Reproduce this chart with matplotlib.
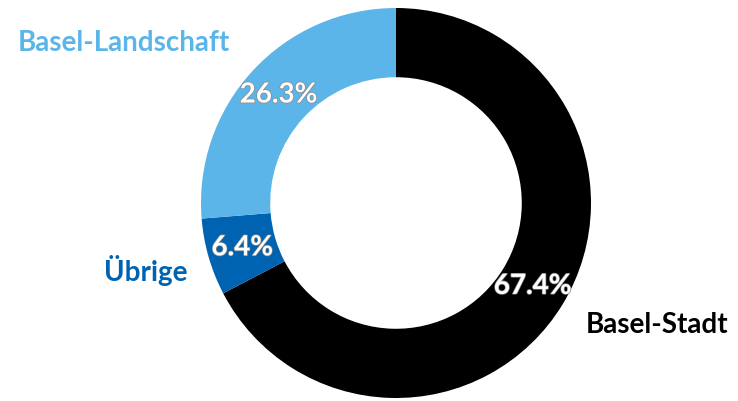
import matplotlib
matplotlib.use("Agg")
import matplotlib.pyplot as plt
import matplotlib.patheffects as pe
import numpy as np

categories = ["Basel-Stadt", "Übrige", "Basel-Landschaft"]
shares = [67.4, 6.4, 26.3]
colors = ["#000000", "#0063B1", "#5BB5E8"]
pct_labels = ["67.4%", "6.4%", "26.3%"]
# label anchor (angle in degrees, distance in radii) for the category names
name_pos = [(-25.0, 1.48), (195.0, 1.33), (149.5, 1.62)]

plt.rcParams["font.family"] = ["Lato", "DejaVu Sans"]

W, H = 738, 401
fig = plt.figure(figsize=(W / 100, H / 100), dpi=100)
cx, cy, R = 396, 198, 195
ax = fig.add_axes([(cx - R) / W, (cy - R) / H, 2 * R / W, 2 * R / H])

wedges, _ = ax.pie(
    shares,
    colors=colors,
    startangle=90,
    counterclock=False,
    radius=1.0,
    wedgeprops=dict(width=0.355, linewidth=0),
    normalize=True,
)
ax.set_xlim(-1, 1)
ax.set_ylim(-1, 1)
ax.set_aspect("auto")
ax.axis("off")

# percentage labels centred in each ring segment
for w, txt in zip(wedges, pct_labels):
    ang = np.deg2rad((w.theta1 + w.theta2) / 2)
    r = 0.82
    ax.text(r * np.cos(ang), r * np.sin(ang), txt, ha="center", va="center",
            color="white", fontsize=20, fontweight="bold",
            path_effects=[pe.withStroke(linewidth=1.0, foreground="#888888")])

# category names outside the ring
for (a, d), name, c in zip(name_pos, categories, colors):
    ang = np.deg2rad(a)
    ax.text(d * np.cos(ang), d * np.sin(ang), name, ha="center", va="center",
            color=c, fontsize=20, fontweight="bold", clip_on=False)

fig.savefig("out.png", dpi=100, facecolor="white")
